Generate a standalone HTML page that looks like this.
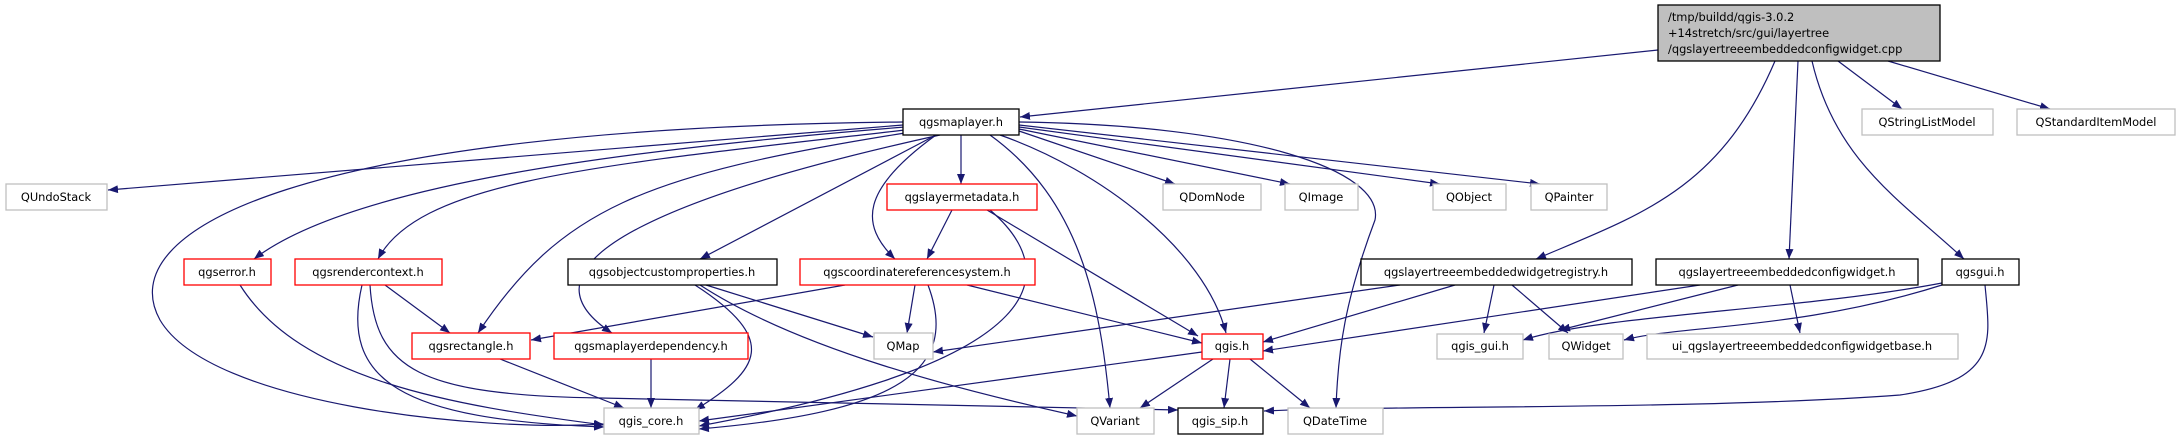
<!DOCTYPE html>
<html><head><meta charset="utf-8"><style>
html,body{margin:0;padding:0;background:#fff;}
svg{display:block;}
text{font-family:"DejaVu Sans","Liberation Sans",sans-serif;font-size:11.4px;fill:#000;}
</style></head><body>
<svg width="2181" height="440" viewBox="0 0 2181 440" xmlns="http://www.w3.org/2000/svg">
<defs>
<marker id="a" viewBox="0 0 10 8" refX="10" refY="4" markerWidth="10" markerHeight="8" markerUnits="userSpaceOnUse" orient="auto">
<path d="M0,0 L10,4 L0,8 z" fill="#191970"/>
</marker>
</defs>
<g fill="none" stroke="#191970" stroke-width="1.2" marker-end="url(#a)">
<!-- root -->
<path d="M1658,50 L1020,117"/>
<path d="M1775,61 C1720,190 1640,215 1536,259"/>
<path d="M1798,61 L1789,259"/>
<path d="M1812,61 C1835,160 1900,200 1964,259"/>
<path d="M1838,61 L1902,109"/>
<path d="M1888,61 L2050,109"/>
<!-- qgsmaplayer -->
<path d="M903,125 L108,190"/>
<path d="M903,122 C300,128 110,230 160,320 C210,405 480,432 604,424"/>
<path d="M905,127 C620,150 350,185 254,259"/>
<path d="M905,130 C600,165 420,180 378,259"/>
<path d="M905,133 C640,175 560,210 478,333"/>
<path d="M940,135 C690,190 500,260 612,333"/>
<path d="M936,135 L700,259"/>
<path d="M936,135 C860,190 860,225 895,259"/>
<path d="M961,135 L961,184"/>
<path d="M990,135 C1080,200 1100,300 1110,408"/>
<path d="M1000,135 C1100,170 1205,250 1226,333"/>
<path d="M1019,131 L1175,184"/>
<path d="M1019,129 L1290,184"/>
<path d="M1019,127 L1440,184"/>
<path d="M1019,125 L1540,184"/>
<path d="M1019,122 C1250,125 1385,170 1375,220 C1345,300 1338,350 1336,408"/>
<!-- qgslayermetadata -->
<path d="M952,210 L927,259"/>
<path d="M987,210 L1198,336"/>
<path d="M990,210 C1060,270 1060,360 699,426"/>
<!-- qgserror -->
<path d="M240,285 C300,380 450,405 604,425"/>
<!-- qgsrendercontext -->
<path d="M385,285 L450,333"/>
<path d="M362,285 C340,380 400,420 604,427"/>
<path d="M370,285 C375,370 420,395 600,398 L1178,410"/>
<!-- objectcustom -->
<path d="M706,285 L873,337"/>
<path d="M695,285 C780,340 760,370 695,410"/>
<path d="M700,285 C800,350 960,390 1077,416"/>
<!-- crs -->
<path d="M845,285 L531,340"/>
<path d="M915,285 L907,333"/>
<path d="M928,285 C960,370 900,412 699,429"/>
<path d="M967,285 L1202,343"/>
<!-- rectangle, dependency -->
<path d="M500,359 L624,408"/>
<path d="M651,359 L651,408"/>
<!-- qgis.h -->
<path d="M1202,352 L699,421"/>
<path d="M1213,359 L1140,408"/>
<path d="M1230,359 L1224,408"/>
<path d="M1250,359 L1310,408"/>
<!-- registry -->
<path d="M1400,285 L933,352"/>
<path d="M1455,285 L1263,342"/>
<path d="M1494,285 L1484,333"/>
<path d="M1512,285 L1568,333"/>
<!-- configwidget -->
<path d="M1700,285 L1263,351"/>
<path d="M1738,285 L1560,330"/>
<path d="M1790,285 L1800,333"/>
<!-- qgsgui -->
<path d="M1942,283 C1800,310 1600,315 1523,340"/>
<path d="M1942,285 C1800,330 1680,325 1624,340"/>
<path d="M1985,285 C1990,340 2000,380 1900,395 C1700,410 1400,405 1264,411"/>
</g>
<g stroke-width="1.3">
<rect x="1658" y="5" width="282" height="56" fill="#bfbfbf" stroke="#000"/>
<!-- black nodes -->
<rect x="903" y="109" width="116" height="26" fill="#fff" stroke="#000"/>
<rect x="568" y="259" width="209" height="26" fill="#fff" stroke="#000"/>
<rect x="1361" y="259" width="271" height="26" fill="#fff" stroke="#000"/>
<rect x="1656" y="259" width="262" height="26" fill="#fff" stroke="#000"/>
<rect x="1942" y="259" width="77" height="26" fill="#fff" stroke="#000"/>
<rect x="1178" y="408" width="85" height="26" fill="#fff" stroke="#000"/>
<!-- red nodes -->
<rect x="887" y="184" width="150" height="26" fill="#fff" stroke="#ff0000"/>
<rect x="184" y="259" width="87" height="26" fill="#fff" stroke="#ff0000"/>
<rect x="295" y="259" width="147" height="26" fill="#fff" stroke="#ff0000"/>
<rect x="800" y="259" width="235" height="26" fill="#fff" stroke="#ff0000"/>
<rect x="412" y="333" width="118" height="26" fill="#fff" stroke="#ff0000"/>
<rect x="554" y="333" width="194" height="26" fill="#fff" stroke="#ff0000"/>
<rect x="1202" y="334" width="61" height="25" fill="#fff" stroke="#ff0000"/>
<!-- gray nodes -->
<g fill="#fff" stroke="#bfbfbf">
<rect x="6" y="184" width="101" height="26"/>
<rect x="1862" y="109" width="131" height="26"/>
<rect x="2017" y="109" width="158" height="26"/>
<rect x="1163" y="184" width="98" height="26"/>
<rect x="1285" y="184" width="73" height="26"/>
<rect x="1433" y="184" width="73" height="26"/>
<rect x="1531" y="184" width="76" height="26"/>
<rect x="874" y="333" width="59" height="26"/>
<rect x="1437" y="334" width="86" height="25"/>
<rect x="1549" y="334" width="74" height="25"/>
<rect x="1647" y="334" width="311" height="25"/>
<rect x="604" y="408" width="95" height="26"/>
<rect x="1077" y="408" width="77" height="26"/>
<rect x="1288" y="408" width="95" height="26"/>
</g>
</g>
<text x="1668" y="21">/tmp/buildd/qgis-3.0.2</text>
<text x="1668" y="37">+14stretch/src/gui/layertree</text>
<text x="1668" y="53">/qgslayertreeembeddedconfigwidget.cpp</text>
<g text-anchor="middle">
<text x="961" y="126">qgsmaplayer.h</text>
<text x="672" y="276">qgsobjectcustomproperties.h</text>
<text x="1496" y="276">qgslayertreeembeddedwidgetregistry.h</text>
<text x="1787" y="276">qgslayertreeembeddedconfigwidget.h</text>
<text x="1980" y="276">qgsgui.h</text>
<text x="1220" y="425">qgis_sip.h</text>
<text x="962" y="201">qgslayermetadata.h</text>
<text x="227" y="276">qgserror.h</text>
<text x="368" y="276">qgsrendercontext.h</text>
<text x="917" y="276">qgscoordinatereferencesystem.h</text>
<text x="471" y="350">qgsrectangle.h</text>
<text x="651" y="350">qgsmaplayerdependency.h</text>
<text x="1232" y="350">qgis.h</text>
<text x="56" y="201">QUndoStack</text>
<text x="1927" y="126">QStringListModel</text>
<text x="2096" y="126">QStandardItemModel</text>
<text x="1212" y="201">QDomNode</text>
<text x="1321" y="201">QImage</text>
<text x="1469" y="201">QObject</text>
<text x="1569" y="201">QPainter</text>
<text x="903" y="350">QMap</text>
<text x="1480" y="350">qgis_gui.h</text>
<text x="1586" y="350">QWidget</text>
<text x="1802" y="350">ui_qgslayertreeembeddedconfigwidgetbase.h</text>
<text x="651" y="425">qgis_core.h</text>
<text x="1115" y="425">QVariant</text>
<text x="1335" y="425">QDateTime</text>
</g>
</svg>
</body></html>
